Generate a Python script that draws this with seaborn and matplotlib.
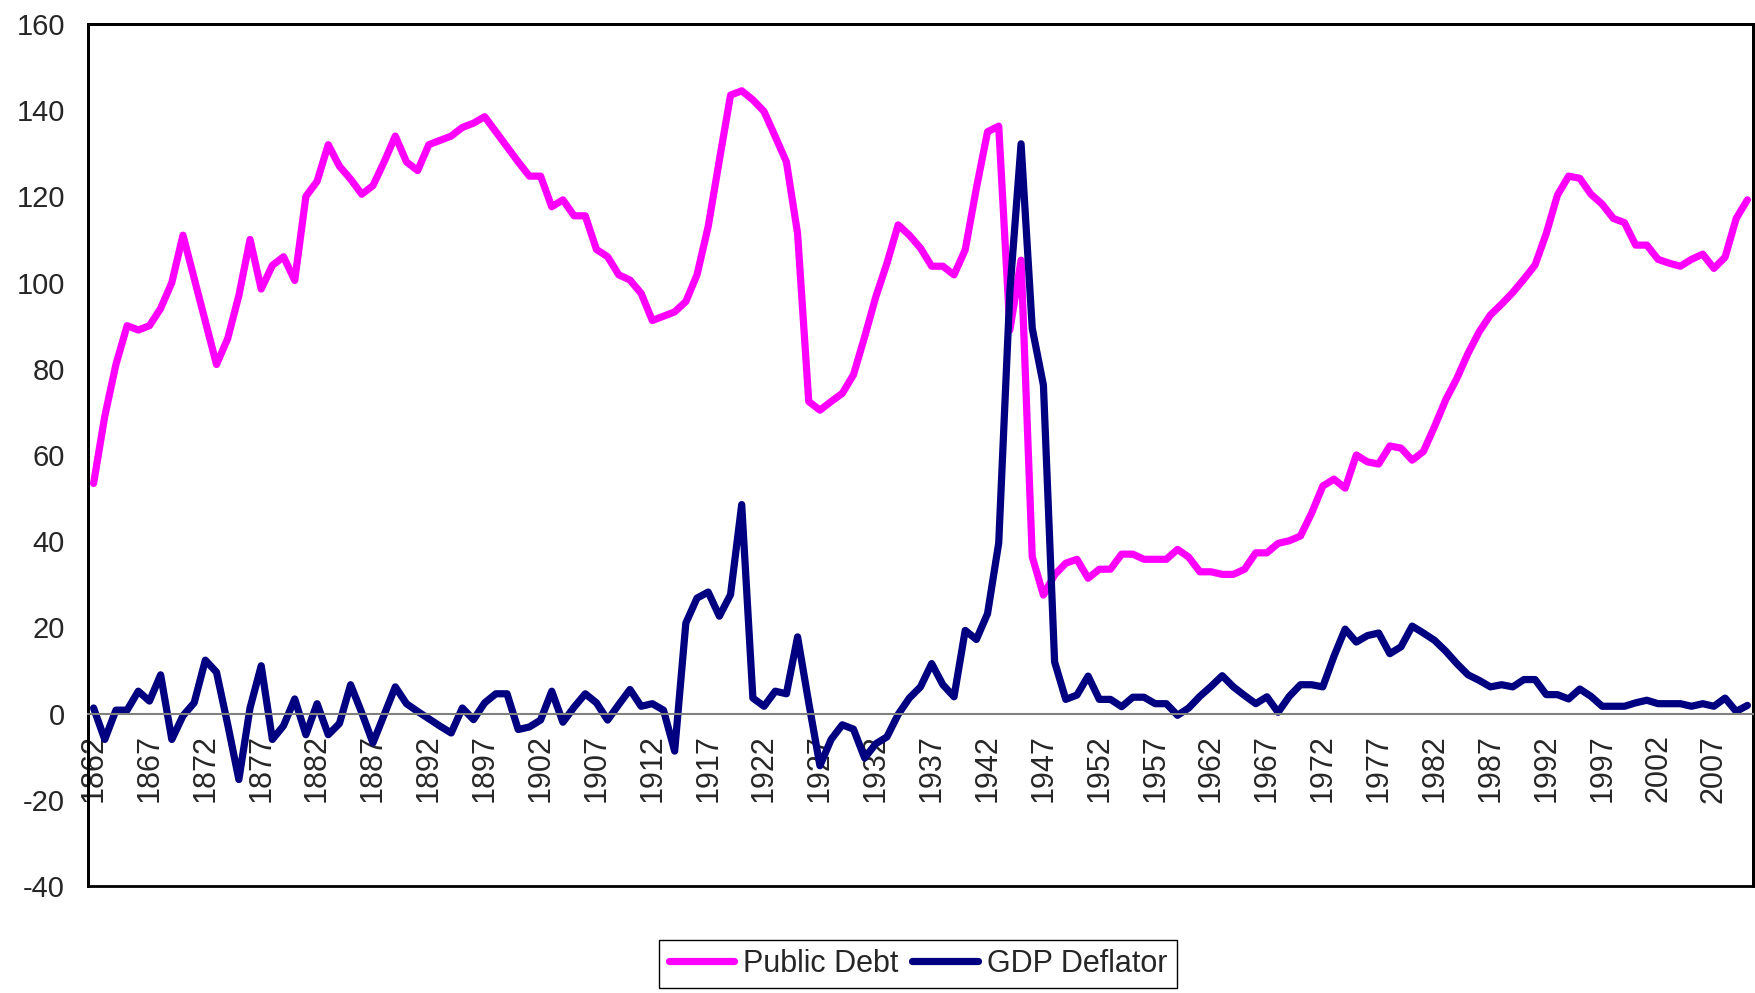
import numpy as np
import pandas as pd
import matplotlib
matplotlib.use("Agg")
import matplotlib.pyplot as plt
import seaborn as sns

# years on the category axis
years = list(range(1862, 2011))

# public debt, % of GDP
public_debt = [
    53.4, 69, 81, 90, 89, 90, 94, 100, 111, 101,
    91, 81, 87, 97, 110, 98.5, 104, 106, 100.5, 120,
    123.5, 132, 127, 124, 120.5, 122.5, 128, 134, 128, 126,
    132, 133, 134, 136, 137, 138.5, 135, 131.5, 128, 124.7,
    124.7, 117.6, 119.2, 115.5, 115.5, 107.7, 106, 101.8, 100.6, 97.5,
    91.2, 92.2, 93.2, 95.6, 101.8, 113, 128.4, 143.5, 144.5, 142.4,
    139.7, 133.9, 128, 111.4, 72.4, 70.4, 72.4, 74.3, 78.6, 87.4,
    96.7, 104.5, 113.4, 111, 108, 103.8, 103.8, 101.8, 107.6, 121.9,
    135, 136.3, 89, 105.2, 36.4, 27.5, 32.2, 34.9, 35.8, 31.4,
    33.5, 33.5, 37, 37, 35.8, 35.8, 35.8, 38.1, 36.3, 32.9,
    32.9, 32.3, 32.3, 33.5, 37.3, 37.3, 39.5, 40.1, 41.2, 46.5,
    52.8, 54.4, 52.3, 60, 58.4, 57.9, 62.1, 61.6, 58.8, 60.8,
    66.6, 72.8, 77.8, 83.6, 88.6, 92.5, 95, 97.7, 100.8, 104.1,
    111.4, 120.3, 124.7, 124.2, 120.5, 118.2, 114.9, 113.9, 108.7, 108.7,
    105.4, 104.5, 103.8, 105.4, 106.6, 103.3, 105.9, 114.9, 119.2,
]

# GDP deflator, % change
gdp_deflator = [
    1.3, -6.0, 0.8, 0.8, 5.2, 2.9, 9.0, -6.0, -0.5, 2.5,
    12.4, 9.6, -2.5, -15.3, 1.3, 11.1, -6.0, -2.8, 3.4, -4.9,
    2.3, -4.9, -2.3, 6.7, 0.2, -6.8, -0.3, 6.2, 2.3, 0.5,
    -1.2, -2.9, -4.5, 1.3, -1.4, 2.5, 4.6, 4.6, -3.7, -3.1,
    -1.5, 5.2, -2.0, 1.5, 4.6, 2.5, -1.5, 2.1, 5.6, 1.7,
    2.3, 0.8, -8.7, 21.0, 26.8, 28.2, 22.6, 27.6, 48.5, 3.6,
    1.7, 5.2, 4.6, 17.8, 2.5, -12.1, -6.0, -2.6, -3.6, -10.3,
    -7.0, -5.4, -0.2, 3.6, 6.2, 11.6, 6.7, 3.9, 19.3, 17.2,
    23.2, 39.6, 98, 132.2, 89.4, 76.2, 12.0, 3.3, 4.3, 8.7,
    3.3, 3.3, 1.6, 3.8, 3.8, 2.3, 2.3, -0.4, 1.3, 4.0,
    6.3, 8.8, 6.2, 4.2, 2.3, 3.9, 0.3, 4.0, 6.7, 6.7,
    6.2, 13.3, 19.6, 16.6, 18.1, 18.7, 13.9, 15.5, 20.3, 18.7,
    17.0, 14.5, 11.6, 9.0, 7.7, 6.2, 6.7, 6.2, 7.9, 7.9,
    4.4, 4.4, 3.4, 5.7, 4.0, 1.7, 1.7, 1.7, 2.5, 3.1,
    2.3, 2.3, 2.3, 1.7, 2.3, 1.7, 3.6, 0.5, 1.9,
]

series_names = ["Public Debt", "GDP Deflator"]
series_colors = ["#FF00FF", "#000080"]

df = pd.concat([
    pd.DataFrame({"Year": years, "Value": public_debt, "Series": series_names[0]}),
    pd.DataFrame({"Year": years, "Value": gdp_deflator, "Series": series_names[1]}),
], ignore_index=True)

sns.set_style("white")
plt.rcParams['font.family'] = ['Liberation Sans', 'DejaVu Sans']
plt.rcParams['axes.unicode_minus'] = False

fig = plt.figure(figsize=(17.56, 9.93), dpi=100)
ax = fig.add_axes([88/1756, 1-886/993, (1753-88)/1756, (886-24)/993])

sns.lineplot(data=df, x="Year", y="Value", hue="Series", hue_order=series_names,
             palette=series_colors, linewidth=5.2, ax=ax, legend=True)

ax.set_xlim(years[0]-0.5, years[-1]+0.5)
ax.set_ylim(-40, 160)
ax.set_yticks(range(-40, 161, 20))
ax.set_xlabel("")
ax.set_ylabel("")

# x axis sits on zero, labels every 5 years, tick marks between categories
ax.spines['bottom'].set_position(('data', 0))
ax.spines['bottom'].set_color('#808080')
ax.spines['bottom'].set_linewidth(1.5)
ax.set_xticks(years[::5])
ax.set_xticklabels([str(y) for y in years[::5]], rotation=90)
ax.set_xticks(np.arange(years[0]-0.5, years[-1]+1), minor=True)
ax.tick_params(axis='x', which='major', length=0, pad=15, labelsize=22)
ax.tick_params(axis='x', which='minor', length=6.5, width=1.2, color='#606060', direction='out')
ax.tick_params(axis='y', which='major', length=6.5, width=1.2, color='#606060',
               direction='out', labelsize=21, pad=10)

for side in ['left', 'top', 'right']:
    ax.spines[side].set_visible(True)
    ax.spines[side].set_color('black')
    ax.spines[side].set_linewidth(2)

# bottom border of the plot area
ax.patch.set_edgecolor('black')
ax.patch.set_linewidth(2)

leg = ax.legend(loc='upper center', bbox_to_anchor=(0.5228, 1-940/993),
                bbox_transform=fig.transFigure, ncol=2, fontsize=22,
                frameon=True, fancybox=False, edgecolor='black',
                handlelength=2.15, handletextpad=0.3, columnspacing=0.44,
                borderpad=0.3, borderaxespad=0, framealpha=1)
leg.get_frame().set_linewidth(1)

fig.savefig("out.png", dpi=100)
